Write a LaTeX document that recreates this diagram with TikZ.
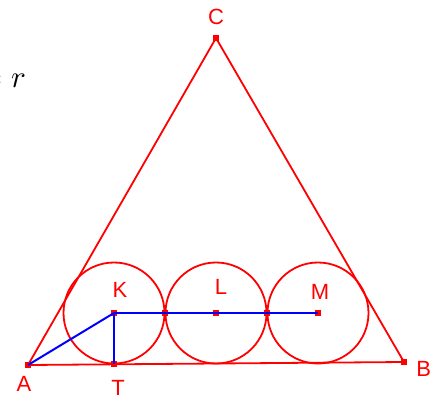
\documentclass[tikz,border=0pt]{standalone}
\usepackage{fontspec}
\setmainfont{Liberation Sans}
\usepackage{unicode-math}
\usetikzlibrary{positioning}
\definecolor{FigRed}{HTML}{FF0000}
\definecolor{FigBlue}{HTML}{0000FF}

\begin{document}
\begin{tikzpicture}[x=1pt, y=-1pt, node distance=3pt,
  pt/.style={rectangle, fill=FigRed, inner sep=0pt, minimum size=6pt},
  lbl/.style={text=FigRed, inner sep=0pt, font=\fontsize{22}{26}\selectfont},
  side/.style={draw=FigRed, line width=1.8pt},
  seg/.style={draw=FigBlue, line width=2pt}]
  \useasboundingbox (0,0) rectangle (436,401);
  % points
  \node[pt] (A) at (28,365) {};
  \node[pt] (B) at (404,362) {};
  \node[pt] (C) at (216,38) {};
  \node[pt] (K) at (114,313) {};
  \node[pt] (L) at (216,313) {};
  \node[pt] (M) at (318,313) {};
  \node[pt] (P) at (165,313) {};
  \node[pt] (Q) at (267,313) {};
  \node[pt] (T) at (114,364) {};
  % triangle and circles
  \draw[side] (A.center) -- (B.center) -- (C.center) -- cycle;
  \draw[side] (K.center) circle[radius=50.5];
  \draw[side] (L.center) circle[radius=50.5];
  \draw[side] (M.center) circle[radius=50.5];
  % blue segments
  \draw[seg] (A.center) -- (K.center);
  \draw[seg] (K.center) -- (T.center);
  \draw[seg] (K.center) -- (M.center);
  % labels
  \node[lbl, above=10pt of C] {C};
  \node[lbl, below=8pt of A, xshift=-4pt] {A};
  \node[lbl, below=13pt of T, xshift=4pt] {T};
  \node[lbl, right=9pt of B, yshift=-7pt] {B};
  \node[lbl, above=12pt of K, xshift=6pt] {K};
  \node[lbl, above=15pt of L, xshift=5pt] {L};
  \node[lbl, above=10pt of M, xshift=2pt] {M};
  \node[inner sep=0pt, anchor=base east, font=\fontsize{31}{34}\selectfont] (eq) at (26,88) {$= r$};
\end{tikzpicture}
\end{document}
